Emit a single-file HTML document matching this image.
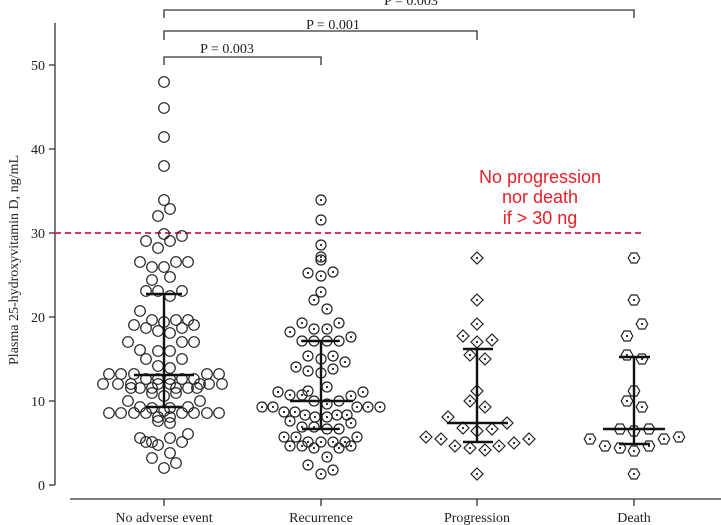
<!DOCTYPE html>
<html><head><meta charset="utf-8"><style>
html,body{margin:0;padding:0;background:#fff;}
svg{display:block;font-family:"Liberation Serif",serif;}
</style></head><body>
<svg id="s" width="721" height="525" viewBox="0 0 721 525" xmlns="http://www.w3.org/2000/svg">
<rect width="721" height="525" fill="#fff"/>
<!-- axes -->
<g stroke="#333" stroke-width="1.3" fill="none">
<line x1="55" y1="23" x2="55" y2="485"/>
<line x1="49" y1="485" x2="55" y2="485"/><line x1="49" y1="401" x2="55" y2="401"/>
<line x1="49" y1="317" x2="55" y2="317"/><line x1="49" y1="233" x2="55" y2="233"/>
<line x1="49" y1="149" x2="55" y2="149"/><line x1="49" y1="65" x2="55" y2="65"/>
<line x1="70" y1="499" x2="721" y2="499"/>
<line x1="164" y1="499" x2="164" y2="506"/><line x1="321" y1="499" x2="321" y2="506"/>
<line x1="477" y1="499" x2="477" y2="506"/><line x1="634" y1="499" x2="634" y2="506"/>
<!-- brackets -->
<polyline points="164,18 164,10 634,10 634,18"/>
<polyline points="164,40 164,31 477,31 477,40"/>
<polyline points="164,65 164,57 321,57 321,65"/>
</g>
<g font-size="14" fill="#222" text-anchor="end">
<text x="45" y="490">0</text><text x="45" y="406">10</text><text x="45" y="322">20</text>
<text x="45" y="238">30</text><text x="45" y="154">40</text><text x="45" y="70">50</text>
</g>
<g font-size="14" fill="#222" text-anchor="middle">
<text x="164" y="522">No adverse event</text><text x="321" y="522">Recurrence</text>
<text x="477" y="522">Progression</text><text x="634" y="522">Death</text>
<text x="411" y="5">P = 0.003</text>
<text x="333" y="29">P = 0.001</text>
<text x="227" y="53">P = 0.003</text>
</g>
<text transform="translate(18,260) rotate(-90)" font-size="14" fill="#222" text-anchor="middle">Plasma 25-hydroxyvitamin D, ng/mL</text>
<line x1="55" y1="233" x2="641" y2="233" stroke="#e0306a" stroke-width="2" stroke-dasharray="6,4"/>
<g font-family="Liberation Sans,sans-serif" font-size="18" fill="#e8202a" text-anchor="middle">
<text x="540" y="183">No progression</text><text x="540" y="203">nor death</text><text x="540" y="224">if &gt; 30 ng</text>
</g>
<g id="m" fill="none" stroke="#222" stroke-width="1.2"></g>
<g stroke="#111" stroke-width="2.4" fill="none">
<line x1="164" y1="294" x2="164" y2="407"/><line x1="146" y1="294" x2="182" y2="294"/>
<line x1="134" y1="375" x2="194" y2="375"/><line x1="146" y1="407" x2="182" y2="407"/>
<line x1="321" y1="341" x2="321" y2="429"/><line x1="302" y1="341" x2="339" y2="341"/>
<line x1="290" y1="401" x2="353" y2="401"/><line x1="302" y1="429" x2="339" y2="429"/>
<line x1="477" y1="349" x2="477" y2="442"/><line x1="463" y1="349" x2="493" y2="349"/>
<line x1="447" y1="423" x2="508" y2="423"/><line x1="463" y1="442" x2="493" y2="442"/>
<line x1="634" y1="357" x2="634" y2="444"/><line x1="619" y1="357" x2="650" y2="357"/>
<line x1="603" y1="429" x2="665" y2="429"/><line x1="619" y1="444" x2="650" y2="444"/>
</g>
</svg>
<script>
var A=[[164,82],[164,108],[164,137],[164,166],[164,200],[170,209],[158,216],[164,234],[146,241],[170,241],[182,236],[158,248],
[140,262],[176,262],[188,262],[152,267],[164,267],[152,280],[170,277],[146,291],[158,291],[182,291],[170,296],[140,311],
[152,320],[176,320],[188,320],[164,322],[134,325],[194,325],[146,328],[182,328],[158,331],[170,333],[128,342],[182,342],[194,342],
[140,350],[158,351],[170,351],[146,359],[182,359],[158,366],[170,368],[109,374],[121,374],[134,374],[207,374],[219,374],
[146,379],[158,379],[170,379],[182,379],[194,379],[103,384],[118,384],[131,384],[200,384],[209,384],[222,384],
[131,388],[140,388],[152,388],[176,388],[188,388],[197,388],[158,384],[170,384],[152,393],[176,393],[164,396],[128,401],[200,401],
[140,407],[188,407],[152,408],[170,408],[164,411],[109,413],[121,413],[134,413],[146,413],[182,413],[194,413],[207,413],[219,413],
[158,417],[170,417],[158,421],[170,423],[188,434],[140,438],[170,438],[146,442],[152,442],[182,442],[158,445],[170,453],[152,458],[176,463],[164,468]];
var B=[[321,200],[321,220],[321,245],[321,257],[321,260],[308,273],[321,276],[333,272],[321,292],[314,300],[327,309],[302,323],[339,323],[290,332],
[314,329],[327,329],[351,337],[302,341],[314,341],[327,341],[339,341],[308,356],[333,356],[321,359],[345,362],[296,367],[333,369],[308,371],[321,373],
[327,387],[278,392],[308,391],[363,392],[290,395],[302,395],[351,396],[314,401],[339,401],[327,404],[262,407],[273,407],[357,407],[368,407],[380,407],
[284,412],[295,412],[305,415],[337,415],[347,415],[315,417],[327,417],[290,421],[351,423],[302,427],[314,427],[327,429],[339,429],[284,437],[296,437],[357,437],
[308,442],[321,442],[333,442],[345,442],[290,446],[302,446],[351,446],[314,448],[339,448],[327,457],[308,465],[333,470],[321,474]];
var C=[[477,258],[477,300],[477,324],[463,336],[477,342],[492,340],[470,355],[485,359],[477,391],[470,401],[485,407],[448,417],[507,423],[463,428],[477,431],[492,429],
[426,437],[441,439],[529,439],[514,443],[455,446],[470,448],[485,450],[499,446],[477,474]];
var D=[[634,258],[634,300],[642,324],[627,336],[627,355],[642,359],[634,391],[627,401],[642,407],[620,429],[634,431],[649,429],[590,439],[679,437],[664,439],
[605,446],[620,448],[634,451],[649,446],[634,474]];
var g=document.getElementById('m'),h='';
A.forEach(function(p){h+='<circle cx="'+p[0]+'" cy="'+p[1]+'" r="5.3"/>';});
function dot(p){return '<circle cx="'+p[0]+'" cy="'+p[1]+'" r="1.1" fill="#222" stroke="none"/>';}
B.forEach(function(p){h+='<circle cx="'+p[0]+'" cy="'+p[1]+'" r="5"/>'+dot(p);});
C.forEach(function(p){var x=p[0],y=p[1];h+='<polygon points="'+x+','+(y-6)+' '+(x+6)+','+y+' '+x+','+(y+6)+' '+(x-6)+','+y+'"/>'+dot(p);});
D.forEach(function(p){var x=p[0],y=p[1],s='';for(var i=0;i<6;i++){var a=Math.PI/3*i;s+=(x+5.8*Math.cos(a)).toFixed(1)+','+(y+5.8*Math.sin(a)).toFixed(1)+' ';}h+='<polygon points="'+s+'"/>'+dot(p);});
g.innerHTML=h;
</script>
</body></html>
